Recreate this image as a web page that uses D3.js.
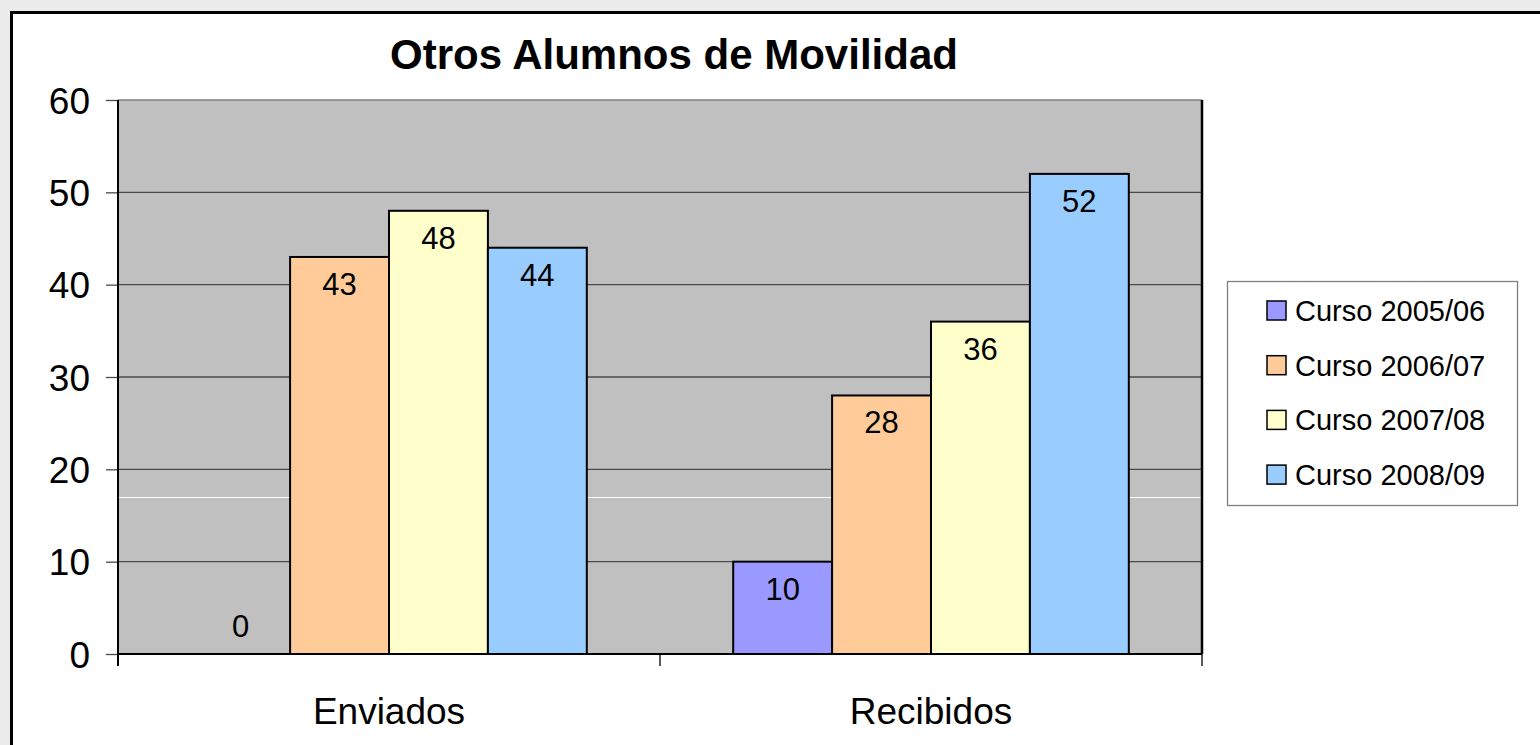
<!DOCTYPE html>
<html>
<head>
<meta charset="utf-8">
<script src="https://cdn.jsdelivr.net/npm/d3@7"></script>
<style>
  body { margin: 0; background: #ebebeb; }
  svg { display: block; font-family: "Liberation Sans", Arial, sans-serif; }
  .title { font-size: 42px; font-weight: bold; text-anchor: middle; }
  .axisY text { font-size: 37px; fill: #000; }
  .axisX text { font-size: 37px; fill: #000; }
  .val { font-size: 31px; text-anchor: middle; fill: #000; }
  .leg text { font-size: 29px; fill: #000; }
</style>
</head>
<body>
<script>
const width = 1540, height = 745;
const plotL = 118, plotR = 1202, plotT = 100, plotB = 654;

const categories = ["Enviados", "Recibidos"];
const series = ["Curso 2005/06", "Curso 2006/07", "Curso 2007/08", "Curso 2008/09"];
const colors = ["#9999ff", "#ffcc99", "#ffffcc", "#99ccff"];
const values = [
  [0, 43, 48, 44],   // Enviados
  [10, 28, 36, 52]   // Recibidos
];
const yTicks = [0, 10, 20, 30, 40, 50, 60];

const svg = d3.select("body").append("svg")
  .attr("width", width)
  .attr("height", height);

// chart frame
svg.append("rect")
  .attr("x", 11.5).attr("y", 12.5)
  .attr("width", width).attr("height", height)
  .attr("fill", "#fff")
  .attr("stroke", "#000")
  .attr("stroke-width", 3);

const y = d3.scaleLinear().domain([0, 60]).range([plotB, plotT]);
const x0 = d3.scaleBand().domain(categories).range([plotL, plotR]);
const x1 = d3.scaleBand().domain(series).range([0, x0.bandwidth()]).paddingOuter(0.74);

// plot area
svg.append("rect")
  .attr("x", plotL).attr("y", plotT)
  .attr("width", plotR - plotL).attr("height", plotB - plotT)
  .attr("fill", "#c0c0c0");

// grid lines
svg.append("g")
  .selectAll("line")
  .data(yTicks.filter(d => d > 0 && d < 60))
  .join("line")
  .attr("x1", plotL).attr("x2", plotR)
  .attr("y1", d => y(d)).attr("y2", d => y(d))
  .attr("stroke", "#4a4a4a")
  .attr("stroke-width", 1.3);

// faint white rendering line seen in the source
svg.append("line")
  .attr("x1", plotL).attr("x2", plotR)
  .attr("y1", Math.round(y(17)) + 0.5).attr("y2", Math.round(y(17)) + 0.5)
  .attr("stroke", "#fff")
  .attr("stroke-width", 1);

// top border
svg.append("line")
  .attr("x1", plotL).attr("x2", plotR)
  .attr("y1", plotT).attr("y2", plotT)
  .attr("stroke", "#808080").attr("stroke-width", 1.5);

// bars
const groups = svg.append("g")
  .selectAll("g")
  .data(categories)
  .join("g")
  .attr("transform", d => `translate(${x0(d)},0)`);

groups.selectAll("rect")
  .data((c, i) => values[i].map((v, j) => ({s: series[j], v, j})))
  .join("rect")
  .filter(d => d.v > 0)
  .attr("x", d => x1(d.s))
  .attr("y", d => y(d.v))
  .attr("width", x1.bandwidth())
  .attr("height", d => y(0) - y(d.v))
  .attr("fill", d => colors[d.j])
  .attr("stroke", "#000")
  .attr("stroke-width", 2);

groups.selectAll("text")
  .data((c, i) => values[i].map((v, j) => ({s: series[j], v, j})))
  .join("text")
  .attr("class", "val")
  .attr("x", d => x1(d.s) + x1.bandwidth() / 2)
  .attr("y", d => d.v > 0 ? y(d.v) + 38 : y(0) - 17)
  .text(d => d.v);

// right border
svg.append("line")
  .attr("x1", plotR).attr("x2", plotR)
  .attr("y1", plotT).attr("y2", plotB)
  .attr("stroke", "#000").attr("stroke-width", 2.5);

// y axis
const axisY = d3.axisLeft(y).tickValues(yTicks).tickSize(12).tickPadding(16);
const gy = svg.append("g")
  .attr("class", "axisY")
  .attr("transform", `translate(${plotL},0)`)
  .call(axisY);
gy.select(".domain").remove();
gy.selectAll(".tick line").attr("stroke", "#4a4a4a").attr("stroke-width", 1.3);
gy.selectAll(".tick text").attr("dy", "0.36em");

svg.append("line")
  .attr("x1", plotL).attr("x2", plotL)
  .attr("y1", plotT).attr("y2", plotB + 12)
  .attr("stroke", "#000").attr("stroke-width", 2);

// x axis
const axisX = d3.axisBottom(x0).tickSize(0).tickPadding(44);
const gx = svg.append("g")
  .attr("class", "axisX")
  .attr("transform", `translate(0,${plotB})`)
  .call(axisX);
gx.select(".domain").remove();

svg.append("line")
  .attr("x1", plotL).attr("x2", plotR)
  .attr("y1", plotB).attr("y2", plotB)
  .attr("stroke", "#000").attr("stroke-width", 2);

svg.append("g")
  .selectAll("line")
  .data(categories.map(c => x0(c)).concat([plotR]))
  .join("line")
  .attr("x1", d => d).attr("x2", d => d)
  .attr("y1", plotB).attr("y2", plotB + 12)
  .attr("stroke", "#000").attr("stroke-width", 1.3);

// title
svg.append("text")
  .attr("class", "title")
  .attr("x", 674).attr("y", 69)
  .text("Otros Alumnos de Movilidad");

// legend
const leg = svg.append("g").attr("class", "leg");
leg.append("rect")
  .attr("x", 1227.5).attr("y", 281.5)
  .attr("width", 290).attr("height", 224)
  .attr("fill", "#fff")
  .attr("stroke", "#808080").attr("stroke-width", 1.3);

const items = leg.selectAll(".item")
  .data(series)
  .join("g")
  .attr("class", "item")
  .attr("transform", (d, i) => `translate(0,${311 + i * 54.7})`);

items.append("rect")
  .attr("x", 1267).attr("y", -10)
  .attr("width", 19).attr("height", 19)
  .attr("fill", (d, i) => colors[i])
  .attr("stroke", "#000").attr("stroke-width", 1.5);

items.append("text")
  .attr("x", 1295).attr("y", 10)
  .text(d => d);
</script>
</body>
</html>
